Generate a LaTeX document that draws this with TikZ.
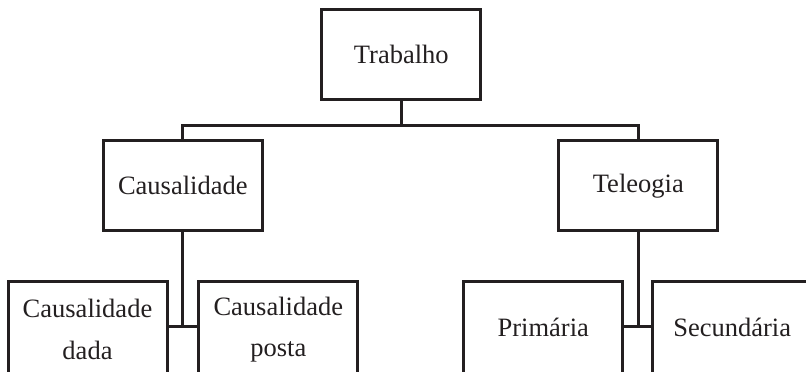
\documentclass[tikz,border=0pt]{standalone}
\usepackage{fontspec}
\setmainfont{Liberation Serif}
\definecolor{ink}{HTML}{231F20}
\begin{document}
\begin{tikzpicture}[x=1pt,y=-1pt,
  box/.style={draw=ink,line width=3pt,minimum width=159pt,minimum height=90pt,inner sep=0pt,
    text=ink,font=\fontsize{26.5}{41.7}\selectfont,align=center},
  conn/.style={draw=ink,line width=3pt}]
\useasboundingbox (0,0) rectangle (806,372);
\clip (0,0) rectangle (806,372);
\node[box] (trab) at (401.3,54.6) {Trabalho};
\node[box] (caus) at (182.8,185.8) {Causalidade};
\node[box] (tele) at (638.3,185.8) {Teleogia};
\node[box,minimum height=96pt] (dada) at (87.5,329.5) {Causalidade\\dada};
\node[box,minimum height=96pt] (posta) at (278.3,329.5) {Causalidade\\posta};
\node[box,minimum height=92pt] (prim) at (543.3,327.5) {Primária};
\node[box,minimum height=92pt] (secu) at (732.2,327.5) {Secundária};
\coordinate (bus) at (0,125);
\coordinate (lowbus) at (0,326);
\draw[conn] (trab.south) -- (trab.south |- bus);
\draw[conn] (caus.north) -- (caus.north |- bus) -| (tele.north);
\draw[conn] (caus.south) -- (caus.south |- lowbus);
\draw[conn] (dada.east |- lowbus) -- (posta.west |- lowbus);
\draw[conn] (tele.south) -- (tele.south |- lowbus);
\draw[conn] (prim.east |- lowbus) -- (secu.west |- lowbus);
\end{tikzpicture}
\end{document}
